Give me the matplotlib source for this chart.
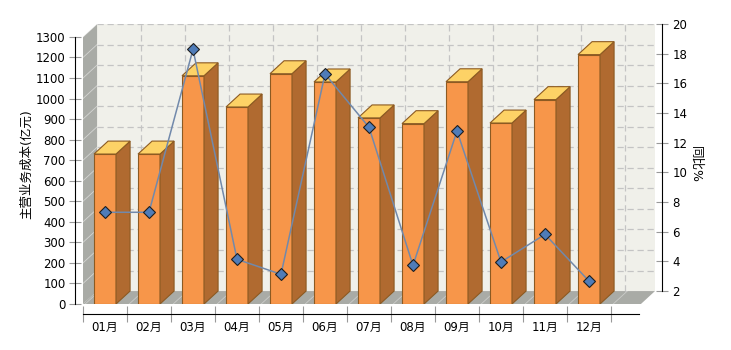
import matplotlib
matplotlib.use("Agg")
import matplotlib.pyplot as plt
from matplotlib.patches import Polygon

plt.rcParams["font.family"] = ["DejaVu Sans", "Noto Sans CJK SC"]

months = ["01月", "02月", "03月", "04月", "05月", "06月",
          "07月", "08月", "09月", "10月", "11月", "12月"]
cost = [730, 730, 1111, 959, 1121, 1081, 906, 878, 1082, 881, 995, 1214]
yoy = [7.31, 7.31, 18.29, 4.14, 3.13, 16.63, 13.04, 3.73, 12.79, 3.96, 5.82, 2.67]

FRONT, SIDE, TOP, EDGE = "#f7964a", "#b06a30", "#fdd266", "#8c5a22"
WALL, GREY, GRID = "#f0f0ea", "#a9aba6", "#c4c4c4"
DX, DY = 0.32, 63          # depth offset (category units, left-axis units)
YMAX = 1300
XEND = 13.0

fig = plt.figure(figsize=(7.31, 3.5), dpi=100)
ax = fig.add_axes([83 / 731, 46 / 350, 572 / 731, 280 / 350])
ax.set_xlim(0, XEND)
ax.set_ylim(0, YMAX + DY)
ax.patch.set_visible(False)

# walls
ax.add_patch(Polygon([(DX, DY), (XEND, DY), (XEND, YMAX + DY), (DX, YMAX + DY)],
                     closed=True, fc=WALL, ec="none", zorder=0))
ax.add_patch(Polygon([(0, 0), (DX, DY), (DX, YMAX + DY), (0, YMAX)],
                     closed=True, fc=GREY, ec="none", zorder=0))
ax.add_patch(Polygon([(0, 0), (XEND - DX, 0), (XEND, DY), (DX, DY)],
                     closed=True, fc=GREY, ec="none", zorder=0))
for v in range(100, YMAX + 1, 100):
    ax.plot([DX, XEND], [v + DY] * 2, color=GRID, lw=0.9, ls=(0, (5, 3)), zorder=0.5)
    ax.plot([0, DX], [v, v + DY], color="white", lw=0.6, alpha=0.5, zorder=0.5)
for k in range(1, 13):
    ax.plot([k + DX] * 2, [DY, YMAX + DY], color=GRID, lw=0.9, ls=(0, (5, 3)), zorder=0.5)
for k in range(0, 13):
    ax.plot([k + 0.05, k + 0.05 + DX], [0, DY], color="white", lw=0.6, alpha=0.4, zorder=0.5)

# bars
xs = [i + 0.5 for i in range(len(months))]
w = 0.5
ax.bar(xs, cost, width=w, color=FRONT, edgecolor=EDGE, lw=0.8, zorder=2)
for x, v in zip(xs, cost):
    l, r = x - w / 2, x + w / 2
    ax.add_patch(Polygon([(r, 0), (r + DX, DY), (r + DX, v + DY), (r, v)],
                         closed=True, fc=SIDE, ec=EDGE, lw=0.8, zorder=2))
    ax.add_patch(Polygon([(l, v), (r, v), (r + DX, v + DY), (l + DX, v + DY)],
                         closed=True, fc=TOP, ec=EDGE, lw=0.8, zorder=2))

# axes styling
for s in ["top", "right"]:
    ax.spines[s].set_visible(False)
ax.spines["left"].set_position(("outward", 6))
ax.spines["left"].set_bounds(0, YMAX)
ax.spines["bottom"].set_position(("outward", 7))
ax.spines["bottom"].set_bounds(0, XEND - 0.36)
ax.set_yticks(range(0, YMAX + 1, 100))
ax.tick_params(axis="y", direction="inout", length=9, color="#999999", labelsize=8.5, pad=2)
ax.set_xticks(range(0, 13))
ax.set_xticklabels([])
ax.set_xticks(xs, minor=True)
ax.set_xticklabels(months, minor=True, fontsize=8.5)
ax.tick_params(axis="x", which="major", direction="inout", length=11, color="#999999")
ax.tick_params(axis="x", which="minor", length=0, pad=5)
ax.set_ylabel("主营业务成本(亿元)", fontsize=9, labelpad=2)

# yoy line on the right axis (back plane)
ax2 = ax.twinx()
lo = 2 - DY * 18 / YMAX
ax2.set_ylim(lo, 20)
ax2.plot(xs, yoy, color="#7189ab", lw=1.1, marker="D", ms=6.5,
         mfc="#4f7cb8", mec="#1e1e1e", mew=0.8, zorder=5)
for s in ["top", "left", "bottom"]:
    ax2.spines[s].set_visible(False)
ax2.spines["right"].set_position(("outward", 5))
ax2.spines["right"].set_bounds(2, 20)
ax2.set_yticks(range(2, 21, 2))
ax2.tick_params(axis="y", direction="inout", length=9, color="#999999", labelsize=8.5, pad=3)
ax2.set_ylabel("同比%", rotation=-90, fontsize=9, labelpad=11)

fig.savefig("out.png", dpi=100)
